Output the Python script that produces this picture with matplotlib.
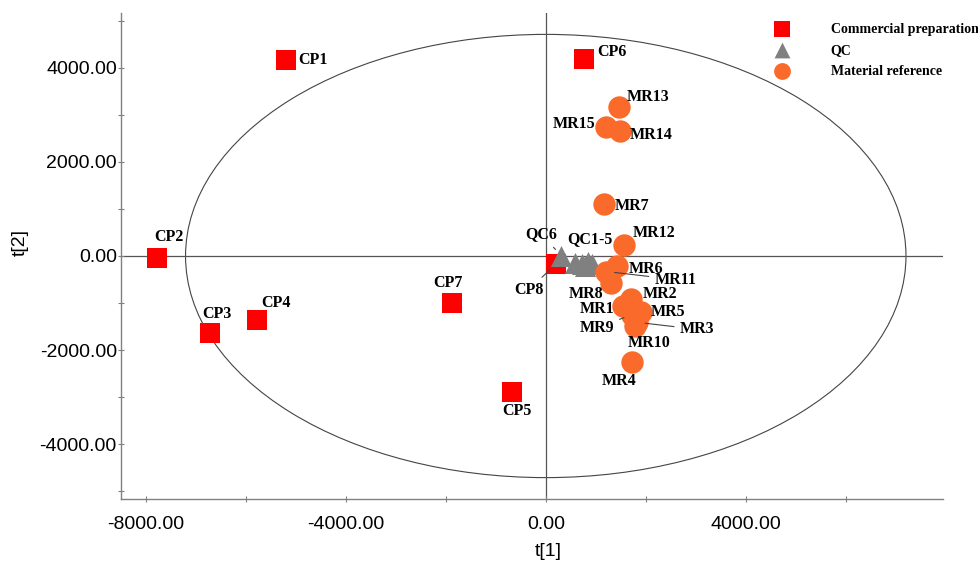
import matplotlib
matplotlib.use('Agg')
import matplotlib.pyplot as plt
from matplotlib.patches import Ellipse
from matplotlib.ticker import MultipleLocator, FormatStrFormatter

# scores t[1], t[2]
cp_names = ['CP1', 'CP2', 'CP3', 'CP4', 'CP5', 'CP6', 'CP7', 'CP8']
cp_t1 = [-5190, -7770, -6710, -5780, -670, 770, -1870, 200]
cp_t2 = [4180, -50, -1630, -1370, -2890, 4190, -1010, -170]

qc_names = ['QC1', 'QC2', 'QC3', 'QC4', 'QC5', 'QC6']
qc_t1 = [590, 730, 850, 930, 790, 310]
qc_t2 = [-140, -160, -120, -180, -210, 10]

mr_names = ['MR1', 'MR2', 'MR3', 'MR4', 'MR5', 'MR6', 'MR7', 'MR8',
            'MR9', 'MR10', 'MR11', 'MR12', 'MR13', 'MR14', 'MR15']
mr_t1 = [1550, 1700, 1820, 1720, 1910, 1430, 1170, 1300,
         1720, 1790, 1210, 1570, 1470, 1490, 1210]
mr_t2 = [-1060, -920, -1410, -2260, -1190, -210, 1110, -570,
         -1250, -1480, -330, 230, 3160, 2650, 2750]

# label offsets in pixels (dx, dy up), and which get a leader line
label_off = {
    'CP1': (27, 0), 'CP2': (12, 21), 'CP3': (7, 19), 'CP4': (19, 17),
    'CP5': (5, -19), 'CP6': (28, 7), 'CP7': (-4, 20), 'CP8': (-27, -26),
    'QC6': (-20, 21), 'QC1': (15, 23),
    'MR13': (29, 10), 'MR15': (-32, 3), 'MR14': (31, -4), 'MR7': (28, -2),
    'MR12': (30, 12), 'MR6': (29, -3), 'MR11': (69, -8), 'MR8': (-25, -11),
    'MR2': (29, 5), 'MR1': (-26, -3), 'MR5': (27, 0), 'MR9': (-35, -13),
    'MR3': (60, -7), 'MR10': (14, -17), 'MR4': (-13, -19),
}
leader = ['CP8', 'QC6', 'MR11', 'MR9', 'MR3']

fig = plt.figure(figsize=(9.79, 5.66), dpi=100)
ax = fig.add_axes([121 / 979, 1 - 499 / 566, 822 / 979, 486 / 566])

ax.set_xlim(-8490, 7940)
ax.set_ylim(-5170, 5170)

ax.add_patch(Ellipse((0, 0), 14400, 9430, fill=False, edgecolor='#444444', lw=0.8, zorder=1))
ax.axhline(0, color='#555555', lw=0.9, zorder=1)
ax.axvline(0, color='#555555', lw=0.9, zorder=1)

ax.scatter(cp_t1, cp_t2, marker='s', s=210, color='#ff0000', zorder=3,
           label='Commercial preparation', linewidths=0)
ax.scatter(qc_t1, qc_t2, marker='^', s=230, color='#808080', zorder=4,
           label='QC', linewidths=0)
ax.scatter(mr_t1, mr_t2, marker='o', s=260, color='#fa6a2b', zorder=5,
           label='Material reference', linewidths=0)

lab_font = dict(family='Liberation Serif', fontweight='bold', fontsize=11.5)
names = cp_names + qc_names + mr_names
xs = cp_t1 + qc_t1 + mr_t1
ys = cp_t2 + qc_t2 + mr_t2
for n, x, y in zip(names, xs, ys):
    if n not in label_off:
        continue
    txt = 'QC1-5' if n == 'QC1' else n
    dx, dy = label_off[n]
    if n in leader:
        ax.annotate(txt, (x, y), xytext=(dx, dy), textcoords='offset pixels',
                    ha='center', va='center', zorder=6,
                    arrowprops=dict(arrowstyle='-', color='#444444', lw=0.8,
                                    shrinkA=2, shrinkB=6), **lab_font)
    else:
        ax.annotate(txt, (x, y), xytext=(dx, dy), textcoords='offset pixels',
                    ha='center', va='center', zorder=6, **lab_font)

for s in ['top', 'right']:
    ax.spines[s].set_visible(False)
for s in ['left', 'bottom']:
    ax.spines[s].set_color('#808080')
    ax.spines[s].set_linewidth(1.0)

ax.xaxis.set_major_locator(MultipleLocator(4000))
ax.xaxis.set_minor_locator(MultipleLocator(2000))
ax.yaxis.set_major_locator(MultipleLocator(2000))
ax.yaxis.set_minor_locator(MultipleLocator(1000))
ax.xaxis.set_major_formatter(FormatStrFormatter('%.2f'))
ax.yaxis.set_major_formatter(FormatStrFormatter('%.2f'))
ax.tick_params(which='both', direction='inout', length=4, width=0.8, color='#808080')
ax.tick_params(axis='x', pad=10)
ax.tick_params(axis='y', pad=1)
for lbl in ax.get_xticklabels() + ax.get_yticklabels():
    lbl.set_family('Liberation Sans')
    lbl.set_fontsize(14)

fig.text(548 / 979, 1 - 552 / 566, 't[1]', ha='center', va='center',
         family='Liberation Sans', fontsize=14)
fig.text(20 / 979, 1 - 243 / 566, 't[2]', ha='center', va='center',
         rotation=90, family='Liberation Sans', fontsize=14)

leg = fig.legend(loc='upper left', bbox_to_anchor=(775 / 979, 1 - 23 / 566),
                 frameon=False, borderpad=0, borderaxespad=0, handlelength=1.0,
                 handletextpad=3.0, labelspacing=0.58, markerscale=0.75,
                 prop=dict(family='Liberation Serif', weight='bold', size=10))

fig.savefig('out.png', dpi=100)
